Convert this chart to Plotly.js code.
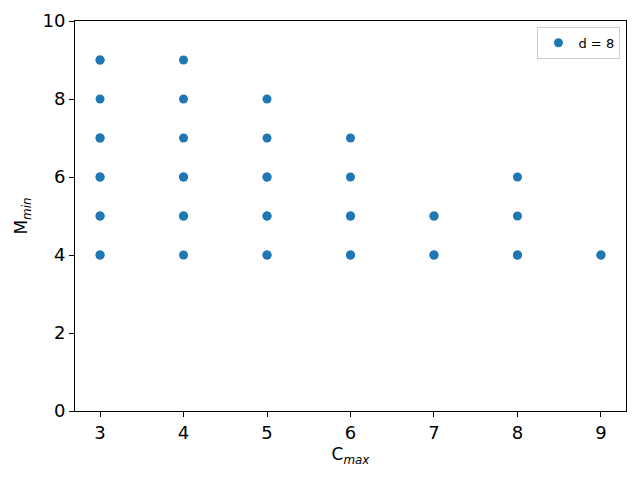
<!DOCTYPE html>
<html>
<head>
<meta charset="utf-8">
<script src="https://cdn.plot.ly/plotly-3.0.1.min.js"></script>
<style>
  body { margin: 0; }
  #plot { width: 640px; height: 480px; }
</style>
</head>
<body>
<div id="plot"></div>
<script>
// C_max / M_min pairs (repeated pairs overlap, so they look darker)
var cMax = [3, 3, 3, 3, 3, 3, 3, 3, 3, 3, 3,
            4, 4, 4, 4, 4, 4, 4, 4,
            5, 5, 5, 5, 5, 5, 5, 5,
            6, 6, 6, 6, 6, 6,
            7, 7, 7, 7,
            8, 8, 8, 8,
            9, 9];
var mMin = [4, 4, 5, 5, 6, 6, 7, 7, 8, 9, 9,
            4, 5, 5, 6, 6, 7, 8, 9,
            4, 4, 5, 5, 6, 6, 7, 8,
            4, 4, 5, 5, 6, 7,
            4, 4, 5, 5,
            4, 4, 5, 6,
            4, 4];

var xTicks = [3, 4, 5, 6, 7, 8, 9];
var yTicks = [0, 2, 4, 6, 8, 10];

var data = [{
    name: 'd = 8',
    x: cMax,
    y: mMin,
    type: 'scatter',
    mode: 'markers',
    marker: { color: '#1f77b4', size: 9 }
}];

var axisStyle = {
    showgrid: false,
    zeroline: false,
    showline: true,
    linecolor: '#000',
    linewidth: 1,
    mirror: true,
    ticks: 'outside',
    ticklen: 5,
    tickcolor: '#000',
    tickfont: { size: 18, color: '#000' }
};

var layout = {
    width: 640,
    height: 480,
    font: { family: 'DejaVu Sans', color: '#000' },
    paper_bgcolor: '#fff',
    plot_bgcolor: '#fff',
    margin: { l: 75, r: 14, t: 21, b: 69 },
    xaxis: Object.assign({}, axisStyle, {
        range: [2.7, 9.3],
        tickvals: xTicks,
        title: { text: 'C<sub><i>max</i></sub>', font: { size: 17 }, standoff: 6 }
    }),
    yaxis: Object.assign({}, axisStyle, {
        range: [0, 10],
        tickvals: yTicks,
        title: { text: 'M<sub><i>min</i></sub>', font: { size: 17 }, standoff: 10 }
    }),
    showlegend: true,
    legend: {
        x: 0.99, y: 0.985,
        xanchor: 'right', yanchor: 'top',
        bgcolor: '#fff',
        bordercolor: '#ccc',
        borderwidth: 1,
        font: { size: 13 }
    }
};

Plotly.newPlot('plot', data, layout, { displayModeBar: false, staticPlot: true });
</script>
</body>
</html>
